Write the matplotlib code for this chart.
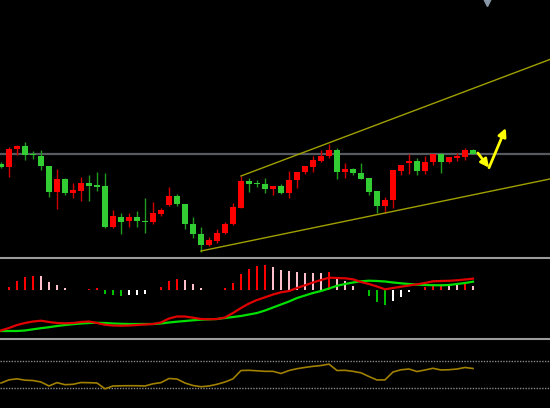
import numpy as np
import matplotlib
matplotlib.use("Agg")
import matplotlib.pyplot as plt

# candle data (index 0..59), prices in chart units
opens = [96, 93, 111.3, 113.7, 105.3, 104.3, 94, 68, 81.3, 66.7,
         69.3, 77, 74.7, 73.7, 33, 42.7, 38.7, 43, 39.3, 38.3,
         46.3, 54.7, 64.3, 56, 35.7, 26, 14.7, 19, 26.7, 35.7,
         52.5, 79, 77, 76, 71, 74, 66.7, 79.7, 88, 93,
         99.3, 104, 110, 87.7, 90.7, 87.3, 82.3, 69, 53.7, 59.7,
         89.3, 96.7, 99, 89, 97.7, 106, 98.3, 102.3, 103.3, 110]
highs = [98, 113, 115.3, 118, 109.3, 109.7, 94, 91.3, 82, 77,
         83.3, 85.3, 88.3, 86.7, 50, 46.7, 47.3, 49, 61.7, 57.7,
         51.7, 73.3, 65.7, 56, 42.7, 32.7, 23.3, 30.7, 38.3, 57.3,
         84, 82.3, 79.7, 82.3, 74, 76, 89.3, 88.3, 94, 104,
         110, 116, 112, 97, 92, 96.7, 82.5, 69, 62.7, 90,
         94.7, 106.3, 101.7, 104.3, 106, 107.3, 102.7, 106.7, 111.7, 110.7]
lows = [92, 83, 105.3, 100, 100.7, 89.7, 62.7, 51.3, 64.7, 62,
        58.7, 59.3, 69.3, 32, 32.5, 26, 33.3, 32.7, 26.7, 36,
        44.3, 54.5, 54.3, 30.7, 21.7, 8.3, 14.5, 17.3, 26, 35,
        52.3, 68.3, 73, 66.7, 65, 65.7, 61.7, 72.3, 85.7, 87.7,
        98.3, 101.7, 81, 81.7, 84.7, 81, 64.7, 47.3, 47.3, 51.7,
        84.7, 86.3, 85.3, 86.3, 94.7, 87, 96.7, 98.7, 100, 106.3]
closes = [93, 111, 114, 105.3, 104.7, 94, 68, 81, 67, 69.7,
          77, 74.3, 73.3, 33, 44.3, 38.3, 43, 39, 38, 46.7,
          49.7, 64.3, 56, 35.7, 26, 14.7, 20, 27.3, 36, 53.3,
          79, 76.3, 75.7, 71, 74, 66.7, 80, 88.3, 94, 100,
          104, 110, 87.7, 90.7, 86.7, 81.3, 68.3, 53.7, 60, 90,
          94.7, 99, 89, 98, 106, 98, 102.7, 103.7, 110, 106.3]

resistance = 106.5
upper_channel = [(30, 84), (68.6, 200.5)]
lower_channel = [(25, 9), (68.6, 81)]
arrow_path = [(59.6, 107), (61, 92.3), (63.1, 132)]

# MACD panel
macd_hist = [0.3, 3.3, 9.3, 13, 14.3, 14, 8, 5.3, 2.3, 0.7,
             0.6, 1.7, 2.7, -3.3, -4.3, -5.3, -4.7, -4.3, -3.3, 0.3,
             3.7, 9.3, 11.7, 10.3, 6.3, 2.3, 0.3, 0.4, 2, 7,
             16, 21.3, 24.3, 25, 23.7, 20.3, 19.3, 18.3, 17.5, 17.3,
             17.1, 18, 12.7, 9.3, 4.7, 0.5, -5.7, -12, -15, -10.3,
             -6.3, -1.7, 0.5, 3.3, 5.7, 6, 5.3, 5.2, 6, 4.3]
macd_dif = [-40.2, -37.7, -34.7, -32.7, -31.2, -30.4, -31.7, -32.7, -33.0, -32.7,
            -31.7, -31.2, -32.7, -34.5, -35.2, -35.4, -35.2, -34.7, -34.2, -33.7,
            -32.2, -28.2, -26.2, -26.2, -27.4, -28.7, -29.0, -28.7, -27.2, -22.7,
            -17.7, -13.2, -9.7, -7.0, -4.2, -2.0, -0.7, 2.3, 5.0, 7.8,
            10.3, 12.6, 12.3, 12.0, 11.0, 8.3, 6.3, 3.8, 1.0, 2.3,
            3.6, 4.8, 6.0, 7.3, 9.0, 9.3, 9.5, 10.0, 10.8, 11.6]
macd_dea = [-40.7, -40.7, -40.7, -40.2, -39.0, -37.9, -36.9, -35.7, -34.7, -33.9,
            -33.2, -32.7, -32.5, -32.7, -33.2, -33.5, -33.7, -33.7, -33.7, -33.7,
            -33.2, -32.2, -31.4, -30.7, -30.0, -29.4, -29.0, -28.7, -27.7, -26.7,
            -25.7, -24.2, -22.7, -20.2, -17.2, -14.2, -11.2, -7.7, -5.2, -2.7,
            -0.7, 1.8, 4.5, 6.3, 7.8, 9.0, 9.6, 9.3, 8.8, 7.8,
            7.0, 6.3, 5.7, 5.3, 5.1, 5.0, 5.3, 6.3, 7.3, 8.6]

# oscillator panel
osc = [37.4, 42.1, 43.6, 41.6, 41.1, 38.9, 33.0, 38.0, 34.9, 35.5,
       38.1, 37.9, 37.4, 28.8, 33.0, 33.3, 33.4, 33.4, 33.0, 36.2,
       38.0, 44.1, 43.3, 37.4, 33.7, 31.9, 33.0, 35.5, 38.9, 43.6,
       55.9, 56.2, 55.5, 54.7, 54.7, 51.5, 55.9, 58.6, 60.5, 62.1,
       63.3, 65.4, 55.9, 56.2, 54.7, 52.5, 47.0, 41.9, 42.1, 53.7,
       57.0, 58.1, 54.4, 56.7, 59.2, 56.7, 57.1, 58.1, 60.4, 58.9]
osc_levels = [30, 70]

W, H = 550, 408
x = np.arange(len(opens))
xlim = (-0.125, 68.625)

fig = plt.figure(figsize=(W / 100, H / 100), dpi=100, facecolor="black")


def add_panel(top, bottom):
    ax = fig.add_axes([0, 1 - bottom / H, 1, (bottom - top) / H])
    ax.set_facecolor("black")
    ax.set_xlim(*xlim)
    ax.set_xticks([])
    ax.set_yticks([])
    for s in ax.spines.values():
        s.set_visible(False)
    return ax


# main price panel
ax = add_panel(0, 257)
ax.set_ylim(3, 260)
o = np.array(opens); c = np.array(closes)
up = c >= o
body_lo = np.minimum(o, c)
body_h = np.maximum(np.abs(c - o), 1.2)
ax.vlines(x[up], np.array(lows)[up], np.array(highs)[up], color="#d00000", lw=1, zorder=2)
ax.vlines(x[~up], np.array(lows)[~up], np.array(highs)[~up], color="#1f9a1f", lw=1, zorder=2)
ax.bar(x[up], body_h[up], bottom=body_lo[up], width=0.72, color="#ff0000", zorder=3)
ax.bar(x[~up], body_h[~up], bottom=body_lo[~up], width=0.72, color="#32cd32", zorder=3)
ax.axhline(resistance, color="#565b61", lw=1.6, zorder=1)
for line in (upper_channel, lower_channel):
    xs, ys = zip(*line)
    ax.plot(xs, ys, color="#a0a000", lw=1, zorder=4)
for p0, p1 in zip(arrow_path[:-1], arrow_path[1:]):
    ax.annotate("", xy=p1, xytext=p0,
                arrowprops=dict(arrowstyle="-|>", color="#ffff00", lw=2,
                                mutation_scale=12, shrinkA=0, shrinkB=0))
ax.plot([60.75], [258], marker="v", color="#8898a8", markersize=6, clip_on=False)

# MACD panel
ax2 = add_panel(259, 338)
ax2.set_ylim(-47.7, 31.3)
hist_colors = []
for i, v in enumerate(macd_hist):
    prev = macd_hist[i - 1] if i > 0 else 0
    if v >= 0:
        hist_colors.append("#ff0000" if v >= prev else "#ffc0cb")
    else:
        hist_colors.append("#00c000" if v < prev else "#ffffff")
ax2.bar(x, macd_hist, width=0.25, color=hist_colors, zorder=2)
ax2.plot(x, macd_dea, color="#00e000", lw=1.6, zorder=3)
ax2.plot(x, macd_dif, color="#e00000", lw=1.6, zorder=4)

# oscillator panel
ax3 = add_panel(340, 408)
ax3.set_ylim(0.4, 101.1)
for lvl in osc_levels:
    ax3.axhline(lvl, color="#8a8a8a", lw=1, ls=(0, (1, 1)))
ax3.plot(x, osc, color="#a08000", lw=1.2)

# panel separators
for ysep in (257.5, 339):
    fig.add_artist(plt.Line2D([0, 1], [1 - ysep / H] * 2, color="#9c9c9c", lw=1.5))

fig.savefig("out.png", dpi=100, facecolor="black")
